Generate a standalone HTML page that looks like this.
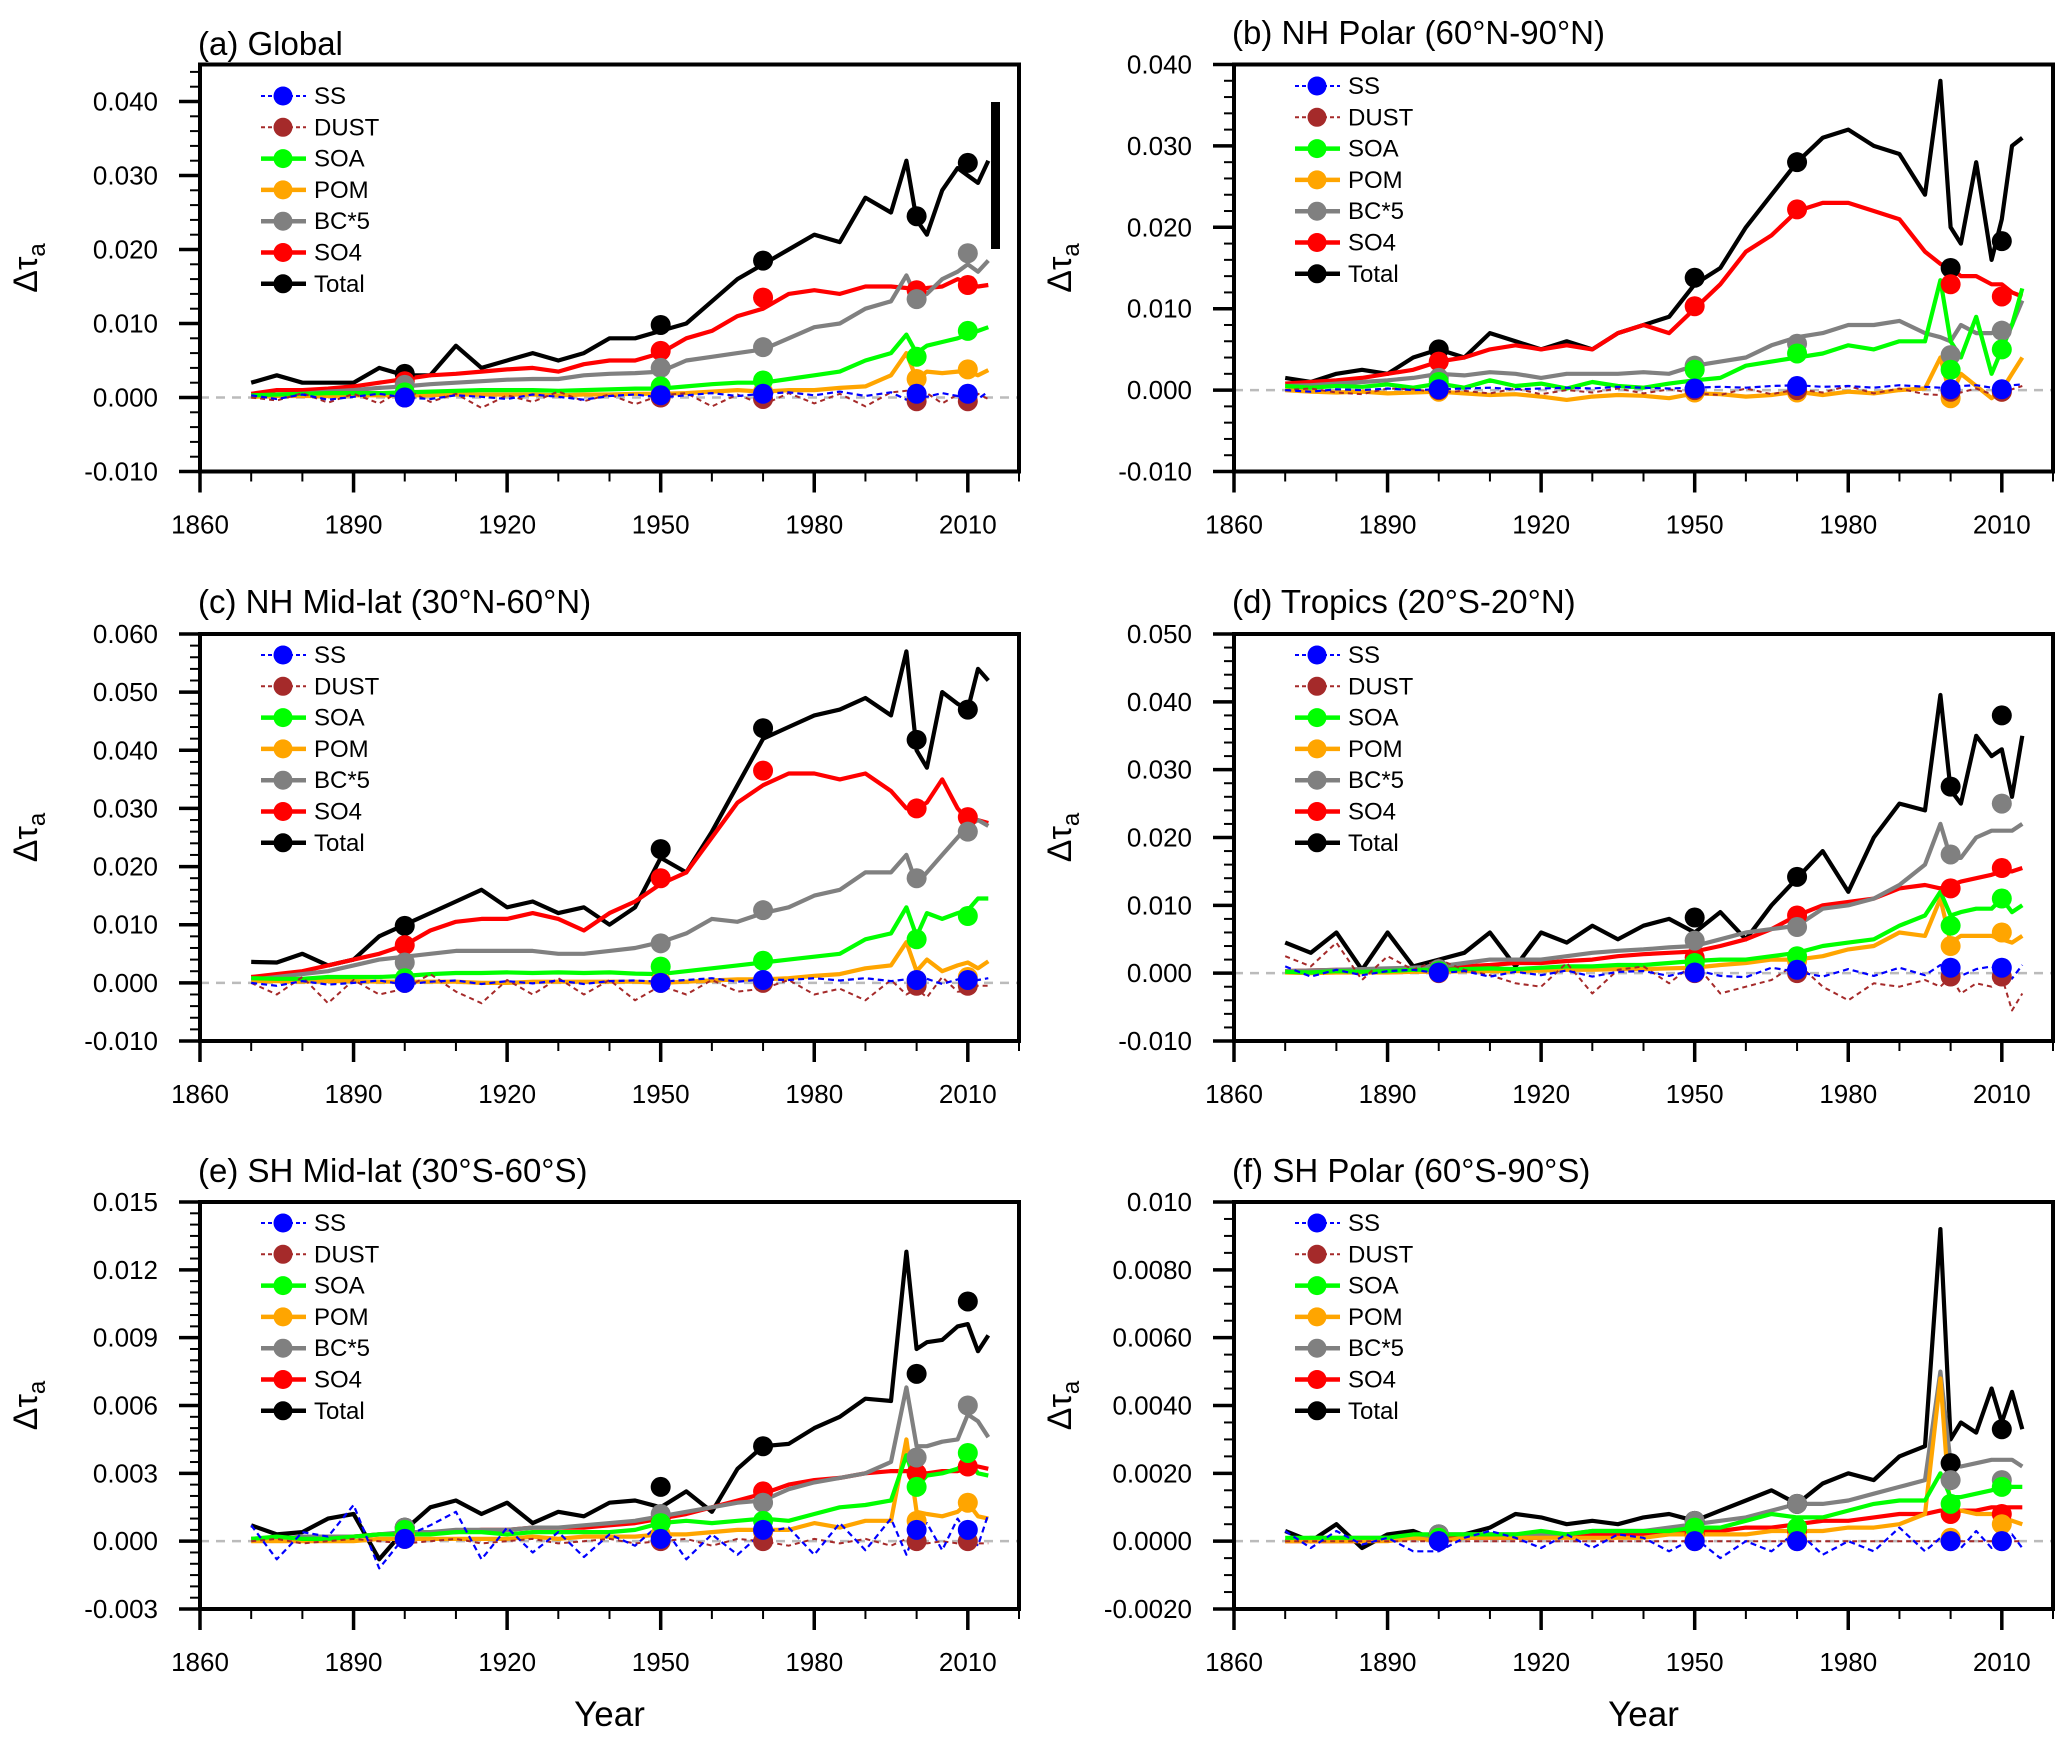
<!DOCTYPE html>
<html><head><meta charset="utf-8"><style>
html,body{margin:0;padding:0;background:#fff;}
svg{display:block;font-family:"Liberation Sans",Arial,sans-serif;}
</style></head><body>
<svg id="fig" width="2067" height="1746" viewBox="0 0 2067 1746" xmlns="http://www.w3.org/2000/svg">
<rect x="0" y="0" width="2067" height="1746" fill="#fff"/>
</svg>
<script>
const years = [1870,1875,1880,1885,1890,1895,1900,1905,1910,1915,1920,1925,1930,1935,1940,1945,1950,1955,1960,1965,1970,1975,1980,1985,1990,1995,1998,2000,2002,2005,2008,2010,2012,2014];
const markerYears = [1900,1950,1970,2000,2010];
const seriesNames = ["SS","DUST","SOA","POM","BC*5","SO4","Total"];
const xTicks = [1860,1890,1920,1950,1980,2010];

// Panel (a) Global
const aSS=[.0003,-.0002,.0004,-.0003,.0001,.0005,0,-.0002,.0003,.0001,-.0002,.0004,.0001,-.0003,.0002,.0004,0,.0003,.0006,.0002,.0005,.0007,.0003,.0008,.0002,.0007,-.0003,.0004,.0001,.0006,.0002,.0005,-.0002,.0008];
const aDUST=[0,-.0004,.0006,-.0007,.0005,-.0008,.0012,-.0006,.0005,-.0014,.0003,-.0006,.0008,-.0005,.0004,-.0009,.0003,.0006,-.0012,.0004,-.001,.0006,-.0008,.0005,-.0012,.0007,.0009,-.0015,.0006,-.0008,.0004,-.0012,.0005,-.0002];
const aSOA=[.0003,.0004,.0005,.0006,.0006,.0006,.0007,.0008,.0009,.001,.001,.001,.0009,.001,.0011,.0012,.0012,.0015,.0018,.002,.002,.0025,.003,.0035,.005,.006,.0085,.006,.007,.0075,.008,.0085,.009,.0095];
const aPOM=[.0001,.0002,.0002,.0002,.0003,.0003,.0003,.0003,.0004,.0004,.0004,.0004,.0003,.0004,.0004,.0005,.0005,.0006,.0008,.001,.0008,.001,.001,.0013,.0015,.003,.006,.0025,.0035,.0033,.0035,.0035,.003,.0037];
const aBC=[.0002,.0003,.0005,.0008,.001,.0013,.0015,.0018,.002,.0022,.0024,.0025,.0025,.003,.0032,.0033,.0035,.005,.0055,.006,.0065,.008,.0095,.010,.012,.013,.0165,.0135,.014,.016,.017,.018,.017,.0185];
const aSO4=[.0005,.001,.001,.0012,.0015,.002,.0025,.003,.0032,.0035,.0038,.004,.0035,.0045,.005,.005,.006,.008,.009,.011,.012,.014,.0145,.014,.015,.015,.0148,.0145,.0148,.015,.016,.0155,.015,.0152];
const aTotal=[.002,.003,.002,.002,.002,.004,.003,.003,.007,.004,.005,.006,.005,.006,.008,.008,.009,.010,.013,.016,.018,.020,.022,.021,.027,.025,.032,.024,.022,.028,.031,.030,.029,.032];
const aMarkers=[[0,.0003,.0005,.0005,.0005],[0,0,-.0002,-.0005,-.0005],[.0007,.0015,.0023,.0055,.009],[.0003,.0005,.0008,.0025,.0038],[.0017,.004,.0068,.0133,.0195],[.0022,.0063,.0135,.0145,.0152],[.0032,.0098,.0185,.0245,.0317]];
const aTickLabels=["-0.010","0.000","0.010","0.020","0.030","0.040"];

// Panel (b) NH Polar
const bSS=[0,-.0002,.0001,0,.0002,0,.0001,.0002,.0003,.0001,.0002,.0003,.0002,.0004,.0003,.0002,.0003,.0004,.0003,.0005,.0006,.0004,.0005,.0003,.0006,.0004,.0003,.0004,.0005,.0006,.0003,.0004,.0006,.0007];
const bDUST=[0,.0002,-.0003,-.0005,.0002,.0001,-.0003,-.0001,-.0004,.0002,-.0005,0,-.0003,.0002,-.0004,.0001,-.0004,-.0006,.0002,-.0005,.0001,-.0003,.0005,-.0004,.0002,-.0005,-.0006,.0001,-.0003,.0002,-.0005,-.0002,.0001,.0005];
const bSOA=[.0005,.0003,.0005,.0004,.0007,.0003,.0008,.0003,.0012,.0005,.0008,.0002,.001,.0005,.0003,.0008,.0012,.0015,.003,.0035,.004,.0045,.0055,.005,.006,.006,.0135,.006,.004,.009,.002,.005,.008,.0125];
const bPOM=[0,-.0002,-.0003,-.0002,-.0004,-.0003,-.0002,-.0004,-.0006,-.0005,-.0008,-.0012,-.0008,-.0006,-.0007,-.001,-.0004,-.0005,-.0008,-.0006,-.0002,-.0006,-.0002,-.0004,0,.0002,.004,-.0008,.002,.0005,-.001,0,.002,.004];
const bBC=[.0005,.0006,.0008,.001,.0012,.0015,.002,.0018,.0022,.002,.0015,.002,.002,.002,.0022,.002,.003,.0035,.004,.0055,.0065,.007,.008,.008,.0085,.007,.0065,.006,.008,.007,.007,.0075,.008,.011];
const bSO4=[.0008,.001,.0012,.0015,.002,.0025,.0035,.004,.005,.0055,.005,.0055,.005,.007,.008,.007,.010,.013,.017,.019,.022,.023,.023,.022,.021,.017,.0155,.015,.014,.014,.013,.013,.012,.0115];
const bTotal=[.0015,.001,.002,.0025,.002,.004,.005,.004,.007,.006,.005,.006,.005,.007,.008,.009,.013,.015,.020,.024,.028,.031,.032,.030,.029,.024,.038,.020,.018,.028,.016,.021,.030,.031];
const bMarkers=[[.0001,.0002,.0005,.0001,.0001],[0,0,0,-.0002,-.0002],[.001,.0025,.0045,.0025,.005],[-.0002,-.0003,-.0003,-.001,-.0002],[.0015,.003,.0057,.0043,.0073],[.0035,.0103,.0222,.013,.0115],[.005,.0138,.028,.015,.0183]];
const bTickLabels=["-0.010","0.000","0.010","0.020","0.030","0.040"];

// Panel (c) NH Mid-lat
const cSS=[0,-.0005,.0003,-.0003,0,.0004,-.0003,.0002,.0004,-.0002,.0003,-.0001,.0004,-.0002,.0003,.0004,.0002,.0005,.0008,.0002,.0006,.0005,.0008,.0004,.0008,.0003,.0006,.0002,.0007,-.0002,.0006,.0002,.0005,.0008];
const cDUST=[0,-.002,.001,-.0035,.0005,-.002,-.001,.0015,-.0015,-.0035,.0005,-.002,.0008,-.002,.0005,-.003,-.0005,-.002,.0005,-.0015,-.001,.0005,-.002,-.001,-.003,.0005,-.002,-.001,-.0025,.001,-.0015,-.0015,-.0005,-.0005];
const cSOA=[.0008,.0007,.0007,.001,.001,.001,.0012,.0015,.0017,.0017,.0018,.0017,.0018,.0017,.0018,.0016,.0015,.002,.0025,.003,.0035,.004,.0045,.005,.0075,.0085,.013,.008,.012,.011,.012,.0125,.0145,.0145];
const cPOM=[.0003,.0003,.0002,.0003,.0003,.0002,.0002,.0002,.0002,0,0,.0002,.0002,.0002,.0002,.0002,0,.0002,.0004,.0006,.0006,.0008,.0012,.0015,.0025,.003,.007,.002,.004,.002,.003,.0035,.0025,.0037];
const cBC=[.0005,.001,.0015,.002,.003,.004,.0045,.005,.0055,.0055,.0055,.0055,.005,.005,.0055,.006,.007,.0085,.011,.0105,.012,.013,.015,.016,.019,.019,.022,.017,.019,.022,.025,.027,.028,.027];
const cSO4=[.001,.0015,.002,.003,.004,.005,.0065,.009,.0105,.011,.011,.012,.011,.009,.012,.014,.017,.019,.025,.031,.034,.036,.036,.035,.036,.033,.030,.030,.031,.035,.030,.028,.028,.0275];
const cTotal=[.0036,.0035,.005,.003,.004,.008,.010,.012,.014,.016,.013,.014,.012,.013,.010,.013,.0215,.019,.026,.034,.042,.044,.046,.047,.049,.046,.057,.040,.037,.050,.048,.047,.054,.052];
const cMarkers=[[0,0,.0005,.0005,.0005],[0,0,0,-.0005,-.0005],[.0008,.0028,.0038,.0075,.0115],[.0003,.0003,.0003,.0005,.001],[.0035,.0068,.0125,.018,.026],[.0065,.018,.0365,.030,.0285],[.0098,.023,.0438,.0418,.047]];
const cTickLabels=["-0.010","0.000","0.010","0.020","0.030","0.040","0.050","0.060"];

// Panel (d) Tropics
const dSS=[.001,-.0005,.0005,-.0003,.0003,.0005,0,.0003,-.0005,.0002,-.0003,.0004,-.0005,.0002,.0003,-.0004,.0005,-.0004,-.0006,.0008,.0002,-.0005,.0006,-.0004,.0008,-.0003,.0012,.0002,-.0004,.0006,.001,.0001,-.0008,.0012];
const dDUST=[.0025,.001,.0045,-.001,.0025,.0005,.002,.0005,-.0003,-.0015,-.002,.0015,-.003,.0005,.001,-.0015,.0015,-.003,-.002,-.001,.0015,-.002,-.004,-.0015,-.002,-.001,-.002,-.0005,-.003,-.0015,-.002,-.0005,-.0055,-.003];
const dSOA=[.0002,.0001,.0003,.0002,.0003,.0005,.0005,.0006,.0007,.0006,.0008,.001,.001,.0012,.0012,.0015,.0018,.002,.002,.0025,.003,.004,.0045,.005,.007,.0085,.012,.0085,.009,.0095,.0095,.011,.009,.010];
const dPOM=[.0001,0,.0001,.0001,.0001,.0002,.0002,.0003,.0003,.0003,.0004,.0005,.0005,.0006,.0006,.0007,.0008,.0012,.0015,.002,.002,.0025,.0035,.004,.006,.0055,.011,.0045,.0055,.0055,.0055,.005,.0045,.0055];
const dBC=[.0003,.0004,.0005,.0006,.0007,.0008,.001,.0015,.002,.002,.002,.0025,.003,.0033,.0035,.0038,.004,.005,.006,.0065,.007,.0095,.010,.011,.013,.016,.022,.017,.017,.020,.021,.021,.021,.022];
const dSO4=[.0003,.0004,.0005,.0005,.0006,.0007,.0008,.001,.0012,.0015,.0015,.0018,.002,.0025,.0028,.003,.0032,.004,.005,.0065,.0085,.010,.0105,.011,.0125,.013,.0125,.013,.0135,.014,.0145,.015,.015,.0155];
const dTotal=[.0045,.003,.006,.0005,.006,.001,.002,.003,.006,.001,.006,.0045,.007,.005,.007,.008,.006,.009,.005,.010,.014,.018,.012,.020,.025,.024,.041,.027,.025,.035,.032,.033,.026,.035];
const dMarkers=[[.0001,.0001,.0005,.0008,.0008],[0,0,0,-.0005,-.0005],[.0003,.0015,.0025,.007,.011],[.0002,.0005,.0018,.004,.006],[.0006,.0048,.0068,.0175,.025],[.0004,.0023,.0085,.0125,.0155],[.0006,.0082,.0142,.0275,.038]];
const dTickLabels=["-0.010","0.000","0.010","0.020","0.030","0.040","0.050"];

// Panel (e) SH Mid-lat
const eSS=[.0007,-.0008,.0004,.0002,.0016,-.0012,.0002,.0007,.0013,-.0008,.0006,-.0005,.0004,-.0007,.0003,-.0002,.0008,-.0008,.0003,-.0006,.0004,.0006,-.0006,.0008,-.0004,.001,-.0006,.0006,.0008,-.0004,.001,.0003,-.0002,.0012];
const eDUST=[0,.0001,-.0001,0,.0001,0,-.0001,0,.0001,-.0001,0,.0001,-.0001,0,.0001,-.0001,0,.0001,-.0002,.0001,0,-.0002,.0001,-.0001,.0001,-.0002,.0001,0,-.0001,0,-.0001,0,-.0001,-.0001];
const eSOA=[.0001,.0002,.0001,.0001,.0002,.0003,.0003,.0003,.0004,.0004,.0003,.0004,.0004,.0004,.0004,.0005,.0008,.0009,.0008,.0009,.001,.0009,.0012,.0015,.0016,.0018,.0038,.0024,.0029,.003,.0032,.0036,.003,.0029];
const ePOM=[0,0,0,0,0,.0001,.0001,.0001,.0001,.0001,.0001,.0002,.0001,.0002,.0002,.0002,.0003,.0003,.0004,.0005,.0005,.0005,.0008,.0006,.0009,.0009,.0045,.0013,.0012,.0011,.0013,.0017,.0011,.001];
const eBC=[.0001,.0001,.0002,.0002,.0002,.0003,.0004,.0004,.0005,.0005,.0005,.0006,.0006,.0007,.0008,.0009,.0011,.0013,.0015,.0017,.0018,.0023,.0026,.0028,.003,.0035,.0068,.0042,.0042,.0044,.0045,.0056,.0053,.0046];
const eSO4=[.0001,.0001,.0001,.0002,.0002,.0003,.0003,.0004,.0004,.0005,.0005,.0006,.0006,.0006,.0007,.0008,.001,.0012,.0015,.0018,.0021,.0025,.0027,.0028,.003,.0031,.0031,.0031,.003,.0031,.0031,.0032,.0033,.0032];
const eTotal=[.0007,.0003,.0004,.001,.0012,-.0008,.0005,.0015,.0018,.0012,.0017,.0008,.0013,.0011,.0017,.0018,.0015,.0022,.0013,.0032,.0042,.0043,.005,.0055,.0063,.0062,.0128,.0085,.0088,.0089,.0095,.0096,.0084,.0091];
const eMarkers=[[.0001,.0001,.0005,.0005,.0005],[.0001,0,0,0,0],[.0005,.0008,.0009,.0024,.0039],[.0003,.0003,.0004,.0009,.0017],[.0006,.0012,.0017,.0037,.006],[.0003,.0009,.0022,.003,.0033],[.0006,.0024,.0042,.0074,.0106]];
const eTickLabels=["-0.003","0.000","0.003","0.006","0.009","0.012","0.015"];

// Panel (f) SH Polar
const fSS=[.0003,-.0002,.0003,-.0001,.0001,-.0003,-.0003,.0001,.0003,.0001,-.0002,.0002,-.0002,.0002,.0001,-.0003,.0001,-.0005,0,-.0003,.0003,-.0004,0,-.0003,.0004,-.0003,.0001,0,-.0002,.0003,-.0002,0,.0002,-.0002];
const fDUST=[0,0,0,0,0,0,0,0,0,0,0,0,0,0,0,0,0,0,0,0,0,0,0,0,0,0,0,0,0,0,0,0,0,0];
const fSOA=[.0001,.0001,.0001,.0001,.0001,.0002,.0002,.0002,.0002,.0002,.0003,.0002,.0003,.0003,.0003,.0003,.0004,.0004,.0006,.0008,.0007,.0007,.0009,.0011,.0012,.0012,.002,.0013,.0013,.0014,.0015,.0016,.0016,.0016];
const fPOM=[0,0,0,0,0,.0001,0,.0001,.0001,.0001,.0001,.0001,.0001,.0001,.0001,.0002,.0002,.0002,.0002,.0003,.0003,.0003,.0004,.0004,.0005,.0008,.0048,.0007,.0009,.0008,.0008,.0007,.0006,.0005];
const fBC=[0,.0001,.0001,.0001,.0001,.0001,.0002,.0002,.0002,.0002,.0002,.0002,.0003,.0003,.0003,.0004,.0005,.0006,.0007,.0009,.0011,.0011,.0012,.0014,.0016,.0018,.005,.0023,.0022,.0023,.0024,.0024,.0024,.0022];
const fSO4=[0,0,0,0,.0001,.0001,.0001,.0001,.0001,.0001,.0001,.0002,.0002,.0002,.0002,.0002,.0003,.0003,.0004,.0004,.0005,.0006,.0006,.0007,.0008,.0008,.0009,.0009,.0009,.0009,.001,.001,.001,.001];
const fTotal=[.0003,0,.0005,-.0002,.0002,.0003,0,.0002,.0004,.0008,.0007,.0005,.0006,.0005,.0007,.0008,.0006,.0009,.0012,.0015,.0011,.0017,.002,.0018,.0025,.0028,.0092,.003,.0035,.0032,.0045,.0035,.0044,.0033];
const fMarkers=[[0,0,0,0,0],[0,0,0,0,0],[.0001,.0004,.0004,.0011,.0016],[.0001,.0001,.0001,.0001,.0005],[.0002,.0006,.0011,.0018,.0018],[.0001,.0002,.0003,.0008,.0008],[.0002,.0006,.0011,.0023,.0033]];
const fTickLabels=["-0.0020","0.0000","0.0020","0.0040","0.0060","0.0080","0.010"];

const NS="http://www.w3.org/2000/svg";
const svg=document.getElementById('fig');
function mk(tag,attrs,parent){const e=document.createElementNS(NS,tag);for(const k in attrs)e.setAttribute(k,attrs[k]);(parent||svg).appendChild(e);return e;}

const colors=["#0000ff","#a52a2a","#00ff00","#ffa500","#808080","#ff0000","#000000"];
const widths=[2.2,2,4.2,4.2,4.2,4.2,4.2];
const dashes=["6,4","5,4",null,null,null,null,null];

const panels=[
 {id:"a",title:"(a) Global",x0:200,y0:64.5,ymin:-0.010,ymax:0.045,t0:-0.010,step:0.010,minor:0.002,labels:aTickLabels,data:[aSS,aDUST,aSOA,aPOM,aBC,aSO4,aTotal],mk:aMarkers,titleY:55,legY:96,bar:true},
 {id:"b",title:"(b) NH Polar (60°N-90°N)",x0:1234,y0:64.5,ymin:-0.010,ymax:0.040,t0:-0.010,step:0.010,minor:0.002,labels:bTickLabels,data:[bSS,bDUST,bSOA,bPOM,bBC,bSO4,bTotal],mk:bMarkers,titleY:44,legY:86},
 {id:"c",title:"(c) NH Mid-lat (30°N-60°N)",x0:200,y0:634,ymin:-0.010,ymax:0.060,t0:-0.010,step:0.010,minor:0.002,labels:cTickLabels,data:[cSS,cDUST,cSOA,cPOM,cBC,cSO4,cTotal],mk:cMarkers,titleY:613,legY:655},
 {id:"d",title:"(d) Tropics (20°S-20°N)",x0:1234,y0:634,ymin:-0.010,ymax:0.050,t0:-0.010,step:0.010,minor:0.002,labels:dTickLabels,data:[dSS,dDUST,dSOA,dPOM,dBC,dSO4,dTotal],mk:dMarkers,titleY:613,legY:655},
 {id:"e",title:"(e) SH Mid-lat (30°S-60°S)",x0:200,y0:1202,ymin:-0.003,ymax:0.015,t0:-0.003,step:0.003,minor:0.0005,labels:eTickLabels,data:[eSS,eDUST,eSOA,ePOM,eBC,eSO4,eTotal],mk:eMarkers,titleY:1182,legY:1223},
 {id:"f",title:"(f) SH Polar (60°S-90°S)",x0:1234,y0:1202,ymin:-0.002,ymax:0.010,t0:-0.002,step:0.002,minor:0.0005,labels:fTickLabels,data:[fSS,fDUST,fSOA,fPOM,fBC,fSO4,fTotal],mk:fMarkers,titleY:1182,legY:1223}
];
const W=819,H=407;

panels.forEach(p=>{
 const g=mk('g',{});
 
 
 const xs=yr=>p.x0+(yr-1860)/160*W;
 const ys=v=>p.y0+H-(v-p.ymin)/(p.ymax-p.ymin)*H;
 const t=mk('text',{x:p.x0-2,y:p.titleY,'font-size':33,fill:'#000'},g);t.textContent=p.title;
 
 
 const z=mk('line',{x1:p.x0,x2:p.x0+W,y1:ys(0),y2:ys(0),stroke:'#bbbbbb','stroke-width':2.5,'stroke-dasharray':'9,7'},g);
 
 
 for(let s=6;s>=0;s--){
  const pts=years.map((yr,i)=>xs(yr).toFixed(1)+','+ys(p.data[s][i]).toFixed(1)).join(' ');
  const pl=mk('polyline',{points:pts,fill:'none',stroke:colors[s],'stroke-width':widths[s],'stroke-linejoin':'round'},g);
  if(dashes[s])pl.setAttribute('stroke-dasharray',dashes[s]);
  
  
 }
 for(let s=6;s>=0;s--){
  markerYears.forEach((yr,i)=>{
   const c=mk('circle',{cx:xs(yr),cy:ys(p.mk[s][i]),r:10,fill:colors[s]},g);
   
   
  });
 }
 const fr=mk('rect',{x:p.x0,y:p.y0,width:W,height:H,fill:'none',stroke:'#000','stroke-width':4},g);
 
 
 for(let v=p.ymin;v<=p.ymax+1e-9;v+=p.minor){
  const y=ys(v);
  mk('line',{x1:p.x0-10,x2:p.x0,y1:y,y2:y,stroke:'#000','stroke-width':2},g);
 }
 p.labels.forEach((lab,i)=>{
  const y=ys(p.t0+i*p.step);
  mk('line',{x1:p.x0-21,x2:p.x0,y1:y,y2:y,stroke:'#000','stroke-width':3.5},g);
  const tl=mk('text',{x:p.x0-42,y:y+9,'font-size':26,'text-anchor':'end',fill:'#000'},g);tl.textContent=lab;
  
  
 });
 for(let yr=1860;yr<=2020;yr+=10){
  const x=xs(yr);
  mk('line',{x1:x,x2:x,y1:p.y0+H,y2:p.y0+H+10,stroke:'#000','stroke-width':2},g);
 }
 xTicks.forEach(yr=>{
  const x=xs(yr);
  mk('line',{x1:x,x2:x,y1:p.y0+H,y2:p.y0+H+21,stroke:'#000','stroke-width':3.5},g);
  const tl=mk('text',{x:x,y:p.y0+H+62,'font-size':26,'text-anchor':'middle',fill:'#000'},g);tl.textContent=yr;
  
  
 });
 const yx=p.x0-163, yc=p.y0+H/2;
 const yt=mk('text',{x:yx,y:yc,'font-size':34,'text-anchor':'middle',transform:'rotate(-90 '+yx+' '+yc+')',fill:'#000'},g);
 yt.innerHTML='Δτ<tspan font-size="24" dy="8">a</tspan>';
 
 
 for(let s=0;s<7;s++){
  const ly=p.legY+s*31.3;
  const lg=mk('g',{},g);
  
  
  const ln=mk('line',{x1:p.x0+61,x2:p.x0+106,y1:ly,y2:ly,stroke:colors[s],'stroke-width':s<2?2:4.5},lg);
  if(dashes[s])ln.setAttribute('stroke-dasharray','4,3');
  mk('circle',{cx:p.x0+83,cy:ly,r:9.5,fill:colors[s]},lg);
  const lt=mk('text',{x:p.x0+114,y:ly+8,'font-size':24,fill:'#000'},lg);lt.textContent=seriesNames[s];
 }
 if(p.bar){
  const b=mk('rect',{x:991,y:102,width:9,height:147,fill:'#000'},g);
  
  
 }
 if(p.id==='e'||p.id==='f'){
  const xt=mk('text',{x:p.x0+W/2,y:1726,'font-size':35,'text-anchor':'middle',fill:'#000'},g);xt.textContent='Year';
  
  
 }
});
</script>
</body></html>
